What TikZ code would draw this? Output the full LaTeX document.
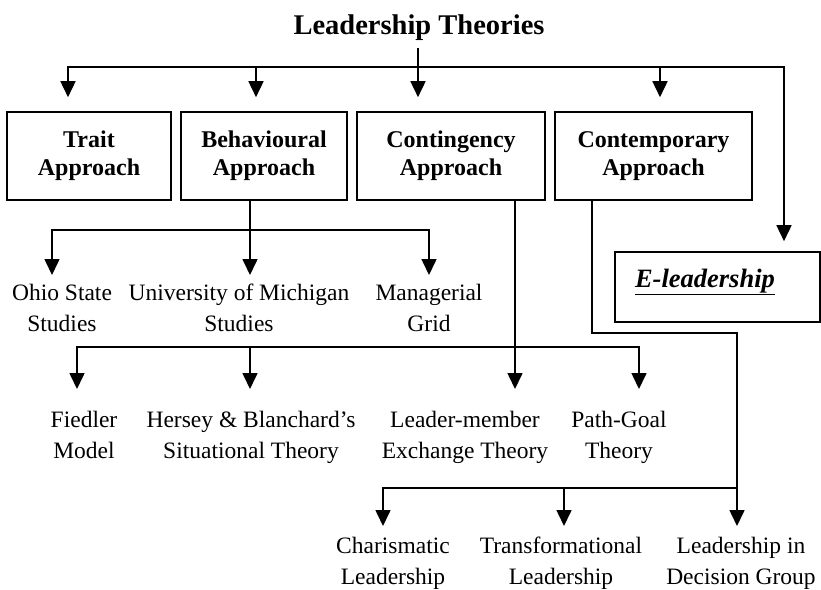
\documentclass[tikz,border=0pt]{standalone}
\usepackage{fontspec}
\setmainfont{Liberation Serif}
\usetikzlibrary{arrows.meta}

\begin{document}
\begin{tikzpicture}[x=1pt,y=-1pt,
  link/.style={line width=1.6pt},
  arr/.style={line width=1.6pt,-{Triangle[length=16pt,width=15pt]}},
  approach/.style={draw,line width=1.6pt,minimum height=88pt,align=center,
    font=\bfseries\fontsize{24}{28}\selectfont},
  leaf/.style={anchor=north,align=center,inner xsep=0pt,inner ysep=9pt,
    font=\fontsize{23.5}{31}\selectfont}]
\useasboundingbox (0,0) rectangle (821,589);
\node [font=\bfseries\fontsize{28.5}{32}\selectfont,anchor=base,inner sep=7.5pt] (title) at (419,34) {Leadership Theories};
\node [approach,minimum width=164pt] (trait) at (89,156) {Trait\\Approach};
\node [approach,minimum width=166pt] (behav) at (264,156) {Behavioural\\Approach};
\node [approach,minimum width=188pt] (conting) at (451,156) {Contingency\\Approach};
\node [approach,minimum width=197pt] (contemp) at (653.5,156) {Contemporary\\Approach};
\node [draw,line width=1.6pt,minimum height=70pt,text width=165pt,inner xsep=20pt,align=left,
  text height=18pt,text depth=18pt,font=\bfseries\itshape\fontsize{26.5}{30}\selectfont] (elead) at (717.5,287) {\underline{E-leadership}};
\node [leaf] (ohio) at (62,275) {Ohio State\\Studies};
\node [leaf] (mich) at (239,275) {University of Michigan\\Studies};
\node [leaf] (grid) at (429,275) {Managerial\\Grid};
\node [leaf,inner ysep=22pt] (fiedler) at (84,389) {Fiedler\\Model};
\node [leaf,inner ysep=22pt] (hersey) at (251,389) {Hersey \& Blanchard's\\Situational Theory};
\node [leaf,inner ysep=22pt] (lmx) at (465,389) {Leader-member\\Exchange Theory};
\node [leaf,inner ysep=22pt] (pathgoal) at (619,389) {Path-Goal\\Theory};
\node [leaf,inner ysep=11pt] (charis) at (393,526) {Charismatic\\Leadership};
\node [leaf,inner ysep=11pt] (transf) at (561,526) {Transformational\\Leadership};
\node [leaf,inner ysep=11pt] (ldg) at (741,526) {Leadership in\\Decision Group};
\coordinate (hub) at (418,66.7);
\draw [link] (title.south -| hub) -- (hub);
\draw [arr,shorten >=14pt] (hub) -| ([xshift=-21pt]trait.north);
\draw [arr,shorten >=14pt] (hub) -| ([xshift=-8pt]behav.north);
\draw [arr,shorten >=14pt] (hub) -- ([xshift=-33pt]conting.north);
\draw [arr,shorten >=14pt] (hub) -| ([xshift=6.5pt]contemp.north);
\draw [arr,shorten >=10pt] (hub) -| ([xshift=66.5pt]elead.north);
\coordinate (bfork) at (250,230);
\draw [link] (behav.south -| bfork) -- (bfork);
\draw [arr] (bfork) -| ([xshift=-10pt]ohio.north);
\draw [arr] (bfork) -- ([xshift=11pt]mich.north);
\draw [arr] (bfork) -| (grid.north);
\coordinate (cfork) at (515,347);
\draw [arr] (conting.south -| cfork) -- ([xshift=50pt]lmx.north);
\draw [arr] (cfork) -| ([xshift=-7pt]fiedler.north);
\draw [arr] (cfork) -| ([xshift=-1pt]hersey.north);
\draw [arr] (cfork) -| ([xshift=20pt]pathgoal.north);
\coordinate (ebend) at (592,333);
\coordinate (efork) at (737,488);
\draw [arr] (contemp.south -| ebend) -- (ebend) -| ([xshift=-4pt]ldg.north);
\draw [arr] (efork) -| ([xshift=-10pt]charis.north);
\draw [arr] (efork) -| ([xshift=3pt]transf.north);
\end{tikzpicture}
\end{document}
